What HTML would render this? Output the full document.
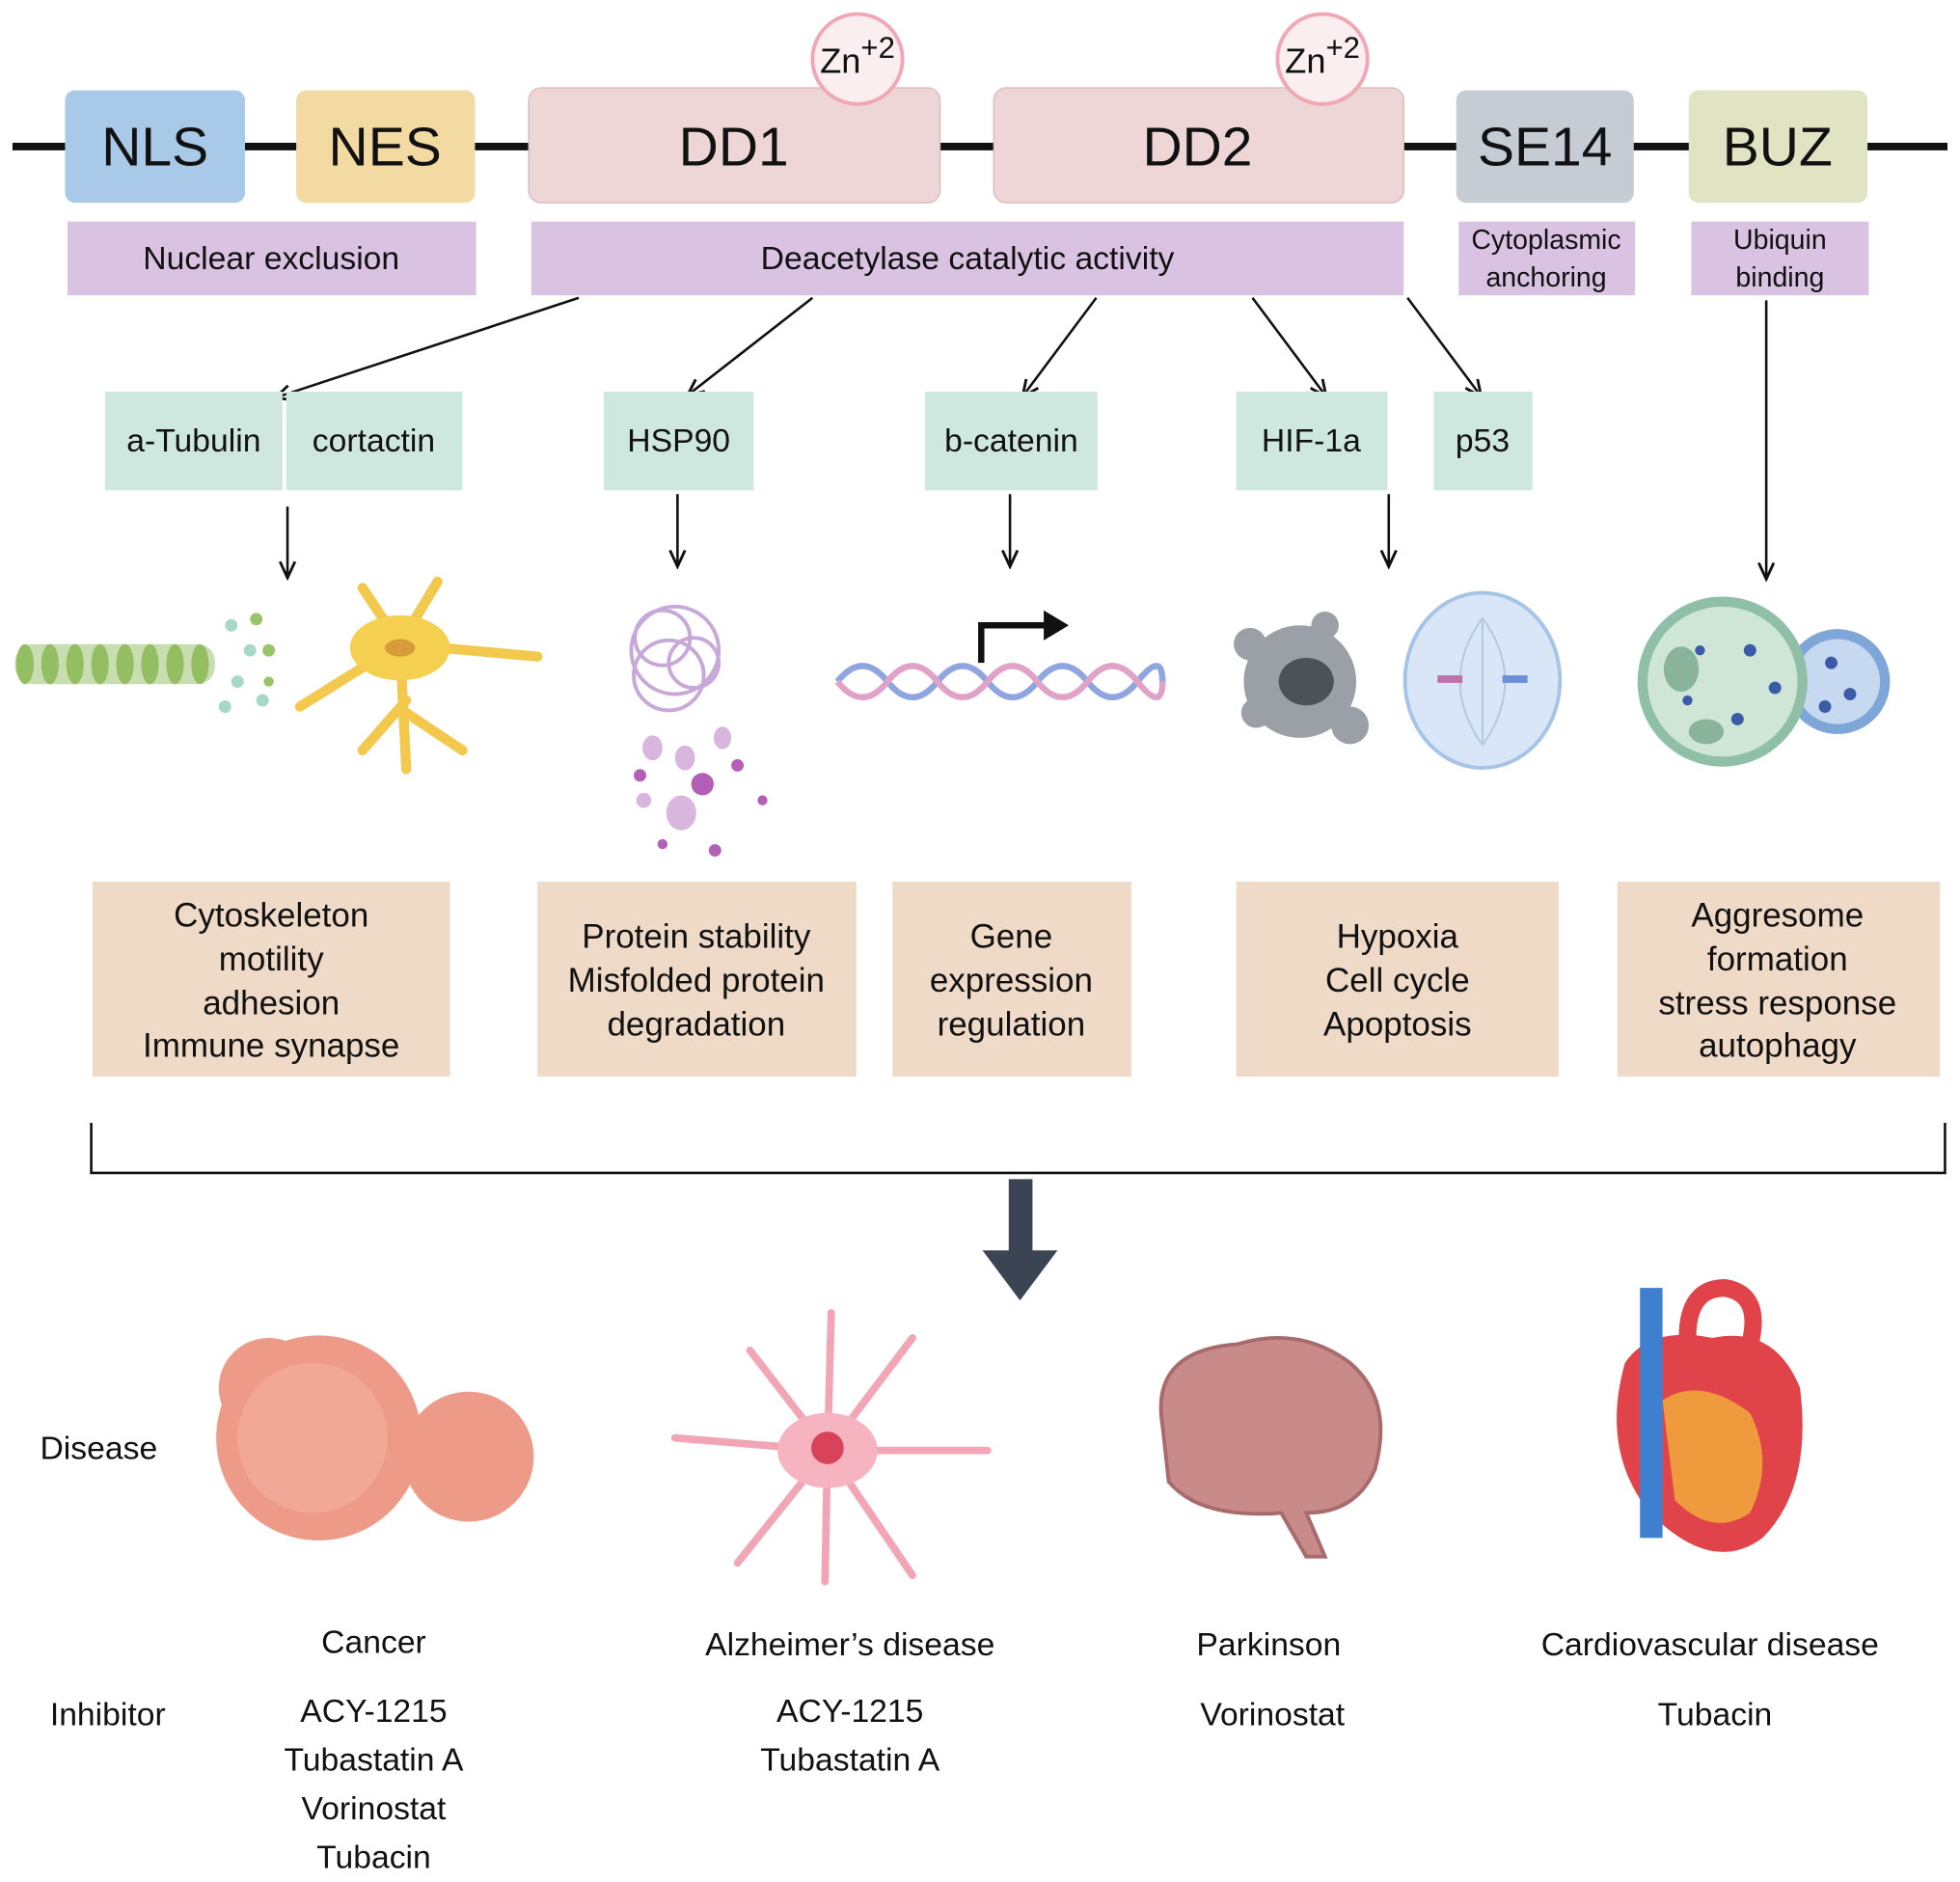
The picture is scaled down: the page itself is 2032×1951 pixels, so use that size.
<!DOCTYPE html>
<html><head><meta charset="utf-8"><style>
html,body{margin:0;padding:0;background:#fff;}
svg{display:block;}
text{font-family:"Liberation Sans",sans-serif;fill:#111;}
</style></head><body>
<svg width="2032" height="1951" viewBox="0 0 1568 1505" xmlns="http://www.w3.org/2000/svg">
<defs>
<marker id="ah" markerWidth="16" markerHeight="16" refX="14" refY="8" orient="auto" markerUnits="userSpaceOnUse"><path d="M1,2 L14,8 L1,14" fill="none" stroke="#111" stroke-width="2.2"/></marker>
</defs>
<rect width="1568" height="1505" fill="#fff"/>
<line x1="10" y1="117" x2="1558" y2="117" stroke="#111" stroke-width="6"/>
<rect x="52" y="72" width="144" height="90" rx="8" fill="#a9c9e8"/>
<text x="124" y="132" font-size="44" text-anchor="middle">NLS</text>
<rect x="237" y="72" width="143" height="90" rx="8" fill="#f3d9a2"/>
<text x="308" y="132" font-size="44" text-anchor="middle">NES</text>
<rect x="423" y="70" width="329" height="92" rx="10" fill="#eed6d6" stroke="#d9b8b8"/>
<text x="587" y="132" font-size="44" text-anchor="middle">DD1</text>
<rect x="795" y="70" width="328" height="92" rx="10" fill="#eed6d6" stroke="#d9b8b8"/>
<text x="958" y="132" font-size="44" text-anchor="middle">DD2</text>
<circle cx="686" cy="47" r="36" fill="#fbeef0" stroke="#f0a9b4" stroke-width="3"/>
<text x="686" y="58" font-size="28" text-anchor="middle">Zn<tspan dy="-12" font-size="24">+2</tspan></text>
<circle cx="1058" cy="47" r="36" fill="#fbeef0" stroke="#f0a9b4" stroke-width="3"/>
<text x="1058" y="58" font-size="28" text-anchor="middle">Zn<tspan dy="-12" font-size="24">+2</tspan></text>
<rect x="1165" y="72" width="142" height="90" rx="8" fill="#c6ccd4"/>
<text x="1236" y="132" font-size="44" text-anchor="middle">SE14</text>
<rect x="1351" y="72" width="143" height="90" rx="8" fill="#e0e4c2"/>
<text x="1422" y="132" font-size="44" text-anchor="middle">BUZ</text>
<g fill="#dac2e3">
<rect x="54" y="177" width="327" height="59"/>
<rect x="425" y="177" width="698" height="59"/>
<rect x="1167" y="177" width="141" height="59"/>
<rect x="1353" y="177" width="142" height="59"/>
</g>
<text x="217" y="215" font-size="26" text-anchor="middle">Nuclear exclusion</text>
<text x="774" y="215" font-size="26" text-anchor="middle">Deacetylase catalytic activity</text>
<text x="1237" y="199" font-size="22" text-anchor="middle">Cytoplasmic</text>
<text x="1237" y="229" font-size="22" text-anchor="middle">anchoring</text>
<text x="1424" y="199" font-size="22" text-anchor="middle">Ubiquin</text>
<text x="1424" y="229" font-size="22" text-anchor="middle">binding</text>
<g stroke="#111" stroke-width="2" marker-end="url(#ah)">
<line x1="463" y1="238" x2="220" y2="318"/>
<line x1="650" y1="238" x2="550" y2="316"/>
<line x1="877" y1="238" x2="818" y2="317"/>
<line x1="1002" y1="238" x2="1061" y2="317"/>
<line x1="1126" y1="238" x2="1185" y2="317"/>
<line x1="1413" y1="240" x2="1413" y2="463"/>
<line x1="230" y1="405" x2="230" y2="462"/>
<line x1="542" y1="395" x2="542" y2="453"/>
<line x1="808" y1="395" x2="808" y2="453"/>
<line x1="1111" y1="395" x2="1111" y2="453"/>
</g>
<g fill="#cfe8df">
<rect x="84" y="313" width="142" height="79"/>
<rect x="229" y="313" width="141" height="79"/>
<rect x="483" y="313" width="120" height="79"/>
<rect x="740" y="313" width="138" height="79"/>
<rect x="989" y="313" width="121" height="79"/>
<rect x="1147" y="313" width="79" height="79"/>
</g>
<g font-size="26" text-anchor="middle">
<text x="155" y="361">a-Tubulin</text>
<text x="299" y="361">cortactin</text>
<text x="543" y="361">HSP90</text>
<text x="809" y="361">b-catenin</text>
<text x="1049" y="361">HIF-1a</text>
<text x="1186" y="361">p53</text>
</g>
<g>
<rect x="12" y="515" width="160" height="32" rx="14" fill="#c9deb0"/>
<g fill="#93bf62"><ellipse cx="20" cy="531" rx="7" ry="16"/><ellipse cx="40" cy="531" rx="7" ry="16"/><ellipse cx="60" cy="531" rx="7" ry="16"/><ellipse cx="80" cy="531" rx="7" ry="16"/><ellipse cx="100" cy="531" rx="7" ry="16"/><ellipse cx="120" cy="531" rx="7" ry="16"/><ellipse cx="140" cy="531" rx="7" ry="16"/><ellipse cx="160" cy="531" rx="7" ry="16"/></g>
<g fill="#a8d8c8"><circle cx="185" cy="500" r="5"/><circle cx="200" cy="520" r="5"/><circle cx="190" cy="545" r="5"/><circle cx="210" cy="560" r="5"/><circle cx="180" cy="565" r="5"/></g>
<g fill="#9ac46a"><circle cx="205" cy="495" r="5"/><circle cx="215" cy="520" r="5"/><circle cx="215" cy="545" r="4"/></g>
<g stroke="#f2c94c" stroke-width="8" fill="none" stroke-linecap="round">
<path d="M320 515 L290 470"/><path d="M320 515 L350 465"/><path d="M320 515 L430 525"/><path d="M320 515 L240 565"/><path d="M320 515 L325 615"/><path d="M325 560 L290 600"/><path d="M325 570 L370 600"/>
</g>
<ellipse cx="320" cy="518" rx="40" ry="26" fill="#f5cf4f"/>
<ellipse cx="320" cy="518" rx="12" ry="7" fill="#d79b3a"/>
<g fill="none" stroke="#c7a8d8" stroke-width="3">
<circle cx="540" cy="520" r="35"/><circle cx="530" cy="510" r="22"/><circle cx="555" cy="530" r="20"/><circle cx="535" cy="540" r="28"/>
</g>
<g fill="#d9b6de"><ellipse cx="522" cy="598" rx="8" ry="10"/><ellipse cx="548" cy="606" rx="8" ry="10"/><ellipse cx="578" cy="590" rx="7" ry="9"/><ellipse cx="545" cy="650" rx="12" ry="14"/><ellipse cx="515" cy="640" rx="6" ry="6"/></g>
<g fill="#b35fb8"><circle cx="562" cy="627" r="9"/><circle cx="590" cy="612" r="5"/><circle cx="512" cy="620" r="5"/><circle cx="572" cy="680" r="5"/><circle cx="610" cy="640" r="4"/><circle cx="530" cy="675" r="4"/></g>
<path d="M670 545 Q690 520 710 545 T750 545 T790 545 T830 545 T870 545 T910 545 T930 545" fill="none" stroke="#8fa5e0" stroke-width="5"/>
<path d="M670 545 Q690 570 710 545 T750 545 T790 545 T830 545 T870 545 T910 545 T930 545" fill="none" stroke="#e0a3c7" stroke-width="5"/>
<path d="M785 530 L785 500 L840 500" fill="none" stroke="#111" stroke-width="5"/>
<path d="M835 488 L855 500 L835 512 Z" fill="#111"/>
<circle cx="1040" cy="545" r="45" fill="#9aa0a6"/>
<circle cx="1000" cy="515" r="13" fill="#9aa0a6"/><circle cx="1080" cy="580" r="15" fill="#9aa0a6"/><circle cx="1060" cy="500" r="11" fill="#9aa0a6"/><circle cx="1005" cy="570" r="12" fill="#9aa0a6"/>
<ellipse cx="1045" cy="545" rx="22" ry="19" fill="#4d5258"/>
<ellipse cx="1186" cy="544" rx="62" ry="70" fill="#d9e6f7" stroke="#a6c3e8" stroke-width="3"/>
<g stroke="#b5c8e0" stroke-width="1.5" fill="none"><path d="M1186 494 Q1150 544 1186 596"/><path d="M1186 494 Q1222 544 1186 596"/><path d="M1186 494 L1186 596"/></g>
<rect x="1150" y="540" width="20" height="6" fill="#c06fa8"/><rect x="1202" y="540" width="20" height="6" fill="#6a8fd8"/>
<circle cx="1470" cy="545" r="42" fill="#7fa6d8"/>
<circle cx="1470" cy="545" r="34" fill="#c7d9f0"/>
<circle cx="1378" cy="545" r="68" fill="#8fbfa6"/>
<circle cx="1378" cy="545" r="60" fill="#cfe6d6"/>
<g fill="#3b5aa8"><circle cx="1400" cy="520" r="5"/><circle cx="1420" cy="550" r="5"/><circle cx="1390" cy="575" r="5"/><circle cx="1360" cy="520" r="4"/><circle cx="1465" cy="530" r="5"/><circle cx="1480" cy="555" r="5"/><circle cx="1460" cy="565" r="5"/><circle cx="1350" cy="560" r="4"/></g>
<ellipse cx="1345" cy="535" rx="14" ry="18" fill="#8ab39c"/><ellipse cx="1365" cy="585" rx="14" ry="10" fill="#8ab39c"/>
</g>
<g fill="#efd9c7">
<rect x="74" y="705" width="286" height="156"/>
<rect x="430" y="705" width="255" height="156"/>
<rect x="714" y="705" width="191" height="156"/>
<rect x="989" y="705" width="258" height="156"/>
<rect x="1294" y="705" width="258" height="156"/>
</g>
<g font-size="27" text-anchor="middle">
<text x="217" y="741">Cytoskeleton</text><text x="217" y="776">motility</text><text x="217" y="811">adhesion</text><text x="217" y="845">Immune synapse</text>
<text x="557" y="758">Protein stability</text><text x="557" y="793">Misfolded protein</text><text x="557" y="828">degradation</text>
<text x="809" y="758">Gene</text><text x="809" y="793">expression</text><text x="809" y="828">regulation</text>
<text x="1118" y="758">Hypoxia</text><text x="1118" y="793">Cell cycle</text><text x="1118" y="828">Apoptosis</text>
<text x="1422" y="741">Aggresome</text><text x="1422" y="776">formation</text><text x="1422" y="811">stress response</text><text x="1422" y="845">autophagy</text>
</g>
<path d="M73 898 L73 938 L1556 938 L1556 898" fill="none" stroke="#111" stroke-width="2"/>
<rect x="807" y="943" width="19" height="58" fill="#3b4453"/>
<path d="M786 1000 L846 1000 L816 1040 Z" fill="#3b4453"/>
<circle cx="255" cy="1150" r="82" fill="#ee9a88"/>
<circle cx="215" cy="1110" r="40" fill="#ee9a88"/>
<circle cx="375" cy="1165" r="52" fill="#ee9a88"/>
<circle cx="250" cy="1150" r="60" fill="#f2a896"/>
<g stroke="#f2a5b5" stroke-width="6" fill="none" stroke-linecap="round">
<path d="M662 1160 L600 1080"/><path d="M662 1160 L730 1070"/><path d="M662 1160 L540 1150"/><path d="M662 1160 L790 1160"/><path d="M662 1160 L590 1250"/><path d="M662 1160 L730 1260"/><path d="M662 1160 L665 1050"/><path d="M662 1160 L660 1265"/>
</g>
<ellipse cx="662" cy="1160" rx="40" ry="30" fill="#f5b4c0"/>
<circle cx="662" cy="1158" r="13" fill="#d9435a"/>
<path d="M930 1140 Q920 1080 990 1075 Q1040 1060 1080 1090 Q1115 1120 1100 1175 Q1085 1210 1045 1210 L1060 1245 L1045 1245 L1025 1210 Q960 1215 935 1185 Z" fill="#c98a8a" stroke="#a86a6a" stroke-width="3"/>
<path d="M1300 1090 Q1280 1160 1320 1210 Q1370 1260 1410 1230 Q1450 1190 1440 1110 Q1420 1060 1370 1070 Q1320 1060 1300 1090 Z" fill="#e0434a"/>
<path d="M1330 1120 Q1360 1100 1400 1130 Q1420 1170 1400 1210 Q1370 1230 1340 1200 Z" fill="#f2b13a" opacity="0.8"/>
<rect x="1312" y="1030" width="18" height="200" fill="#3e7fd0"/>
<path d="M1350 1070 Q1350 1030 1380 1030 Q1410 1035 1400 1075" fill="none" stroke="#e0434a" stroke-width="14"/>
<g font-size="26">
<text x="32" y="1167">Disease</text>
<text x="40" y="1380">Inhibitor</text>
</g>
<g font-size="26" text-anchor="middle">
<text x="299" y="1322">Cancer</text>
<text x="299" y="1377">ACY-1215</text><text x="299" y="1416">Tubastatin A</text><text x="299" y="1455">Vorinostat</text><text x="299" y="1494">Tubacin</text>
<text x="680" y="1324">Alzheimer’s disease</text>
<text x="680" y="1377">ACY-1215</text><text x="680" y="1416">Tubastatin A</text>
<text x="1015" y="1324">Parkinson</text>
<text x="1018" y="1380">Vorinostat</text>
<text x="1368" y="1324">Cardiovascular disease</text>
<text x="1372" y="1380">Tubacin</text>
</g>
</svg>
</body></html>
